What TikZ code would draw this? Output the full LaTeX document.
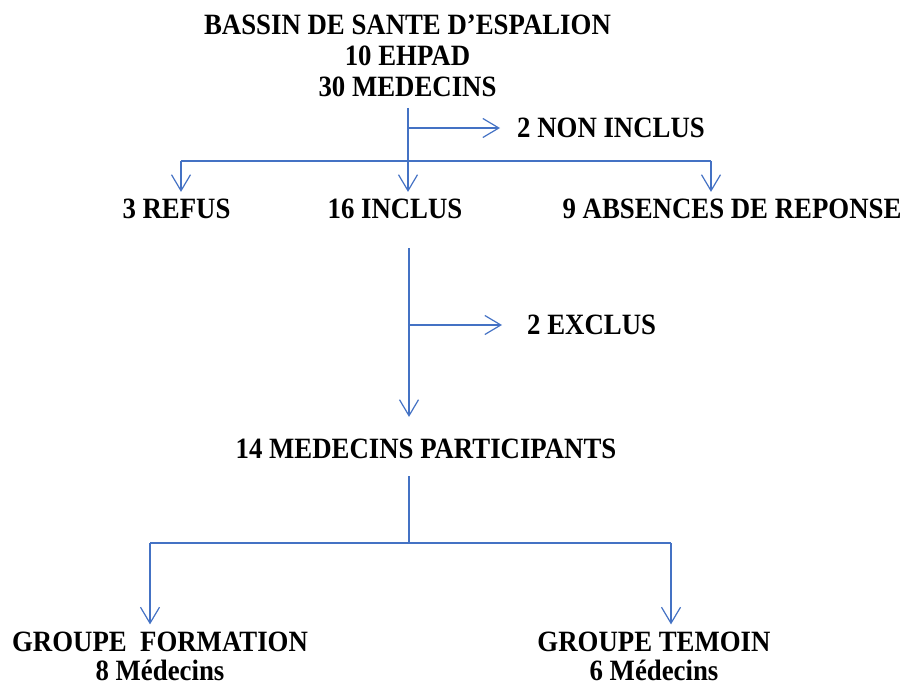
\documentclass[tikz,border=0pt]{standalone}
\usepackage{graphicx}
\usepackage{fontspec}
\setmainfont{Liberation Serif}
\usetikzlibrary{arrows.meta,calc}
\definecolor{lnblue}{HTML}{4472C4}
\newcommand{\vst}[1]{\scalebox{1}[1.1]{#1}}
\begin{document}
\begin{tikzpicture}[x=1pt,y=-1pt,
 lbl/.style={font=\bfseries\fontsize{26.8}{31}\selectfont, inner sep=0pt, align=center},
 conn/.style={draw=lnblue, line width=1.2pt},
 arr/.style={conn, -{Straight Barb[length=16pt,width=19pt]}}]
\useasboundingbox (0,0) rectangle (904,687);
\node[lbl] (title) at (407.5,56) {\vst{BASSIN DE SANTE D’ESPALION}\\\vst{10 EHPAD}\\\vst{30 MEDECINS}};
\node[lbl, anchor=west] (noninc) at (517,128) {\vst{2 NON INCLUS}};
\node[lbl] (refus) at (176.5,209) {\vst{3 REFUS}};
\node[lbl] (inclus) at (395,209) {\vst{16 INCLUS}};
\node[lbl] (abs) at (732,209) {\vst{9 ABSENCES DE REPONSE}};
\node[lbl, anchor=west] (exclus) at (527,325) {\vst{2 EXCLUS}};
\node[lbl] (part) at (426,449) {\vst{14 MEDECINS PARTICIPANTS}};
\node[lbl, font=\bfseries\fontsize{26.8}{29}\selectfont] (form) at (160,656) {\vst{GROUPE\ \ FORMATION}\\\vst{8 Médecins}};
\node[lbl, font=\bfseries\fontsize{26.8}{29}\selectfont] (temoin) at (654,656) {\vst{GROUPE TEMOIN}\\\vst{6 Médecins}};
% junctions
\coordinate (t0) at (408,108);
\coordinate (h1L) at (181,161);
\coordinate (h1R) at (711,161);
\coordinate (t2) at (409,248);
\coordinate (t3) at (409,476);
\coordinate (h2L) at (150,543);
\coordinate (h2R) at (671,543);
% top section
\draw[arr, shorten >=7pt] (t0) -- (t0 |- inclus.north);
\draw[arr, shorten >=17pt] (t0 |- noninc.west) -- (noninc.west);
\draw[conn] (h1L) -- (h1R);
\draw[arr, shorten >=7pt] (h1L) -- (h1L |- refus.north);
\draw[arr, shorten >=7pt] (h1R) -- (h1R |- abs.north);
% middle
\draw[arr, shorten >=22pt] (t2) -- (t2 |- part.north);
\draw[arr, shorten >=25pt] (t2 |- exclus.west) -- (exclus.west);
% bottom
\draw[conn] (t3) -- (t3 |- h2L);
\draw[conn] (h2L) -- (h2R);
\draw[arr, shorten >=7pt] (h2L) -- (h2L |- form.north);
\draw[arr, shorten >=7pt] (h2R) -- (h2R |- temoin.north);
\end{tikzpicture}
\end{document}
